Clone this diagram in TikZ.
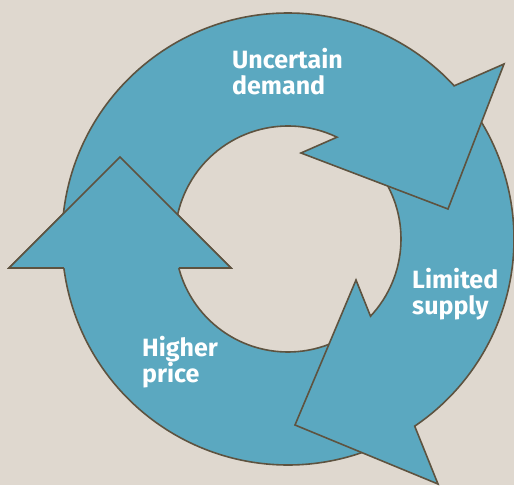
\documentclass[tikz,border=0pt]{standalone}
\usepackage{fontspec}
\setmainfont{Fira Sans}
\definecolor{bg}{HTML}{DFD8CF}
\definecolor{ringfill}{HTML}{5BA8C0}
\definecolor{ringline}{HTML}{5E5340}
\begin{document}
\begin{tikzpicture}[x=1pt,y=1pt,
  arrowshape/.style={fill=ringfill,draw=ringline,line width=1.6pt,line join=miter},
  label/.style={anchor=base west,inner sep=0pt,text=white,font=\fontsize{25}{26}\selectfont\bfseries}]
\fill[bg] (-288,239) rectangle (226,-246);
\useasboundingbox (-288,239) rectangle (226,-246);
% Higher price arrow (A3)
\path[arrowshape] (-60:226) arc[start angle=-60,end angle=-172.63,radius=226pt]
  -- (-279,-29) -- (-168,82) -- (-57,-29) -- (-165.13:113)
  arc[start angle=-165.13,end angle=-60,radius=113pt] -- cycle;
% Limited supply arrow (A2)
\path[arrowshape] (38:226) arc[start angle=38,end angle=-55.9,radius=226pt]
  -- (150,-245) -- (7,-186) -- (68,-41) -- (-43.1:113)
  arc[start angle=-43.1,end angle=38,radius=113pt] -- cycle;
% Uncertain demand arrow (A1)
\path[arrowshape] (180:226) arc[start angle=180,end angle=42.67,radius=226pt]
  -- (216,175) -- (160,30) -- (13,86) -- (64.3:113)
  arc[start angle=64.3,end angle=180,radius=113pt] -- cycle;
% head of A3 again, over the tail of A1
\fill[ringfill] (-279,-29) -- (-168,82) -- (-57,-29) -- cycle;
\draw[draw=ringline,line width=1.6pt,line join=miter] (187.37:226) -- (-279,-29) -- (-168,82) -- (-57,-29) -- (194.87:113);
% labels
\node[label] (ud1) at (-56,170) {Uncertain};
\node[label] (ud2) at (-56,144) {demand};
\node[label] (ls1) at (124,-49) {Limited};
\node[label] (ls2) at (124,-75) {supply};
\node[label] (hp1) at (-146,-117) {Higher};
\node[label] (hp2) at (-146,-143) {price};
\end{tikzpicture}
\end{document}
